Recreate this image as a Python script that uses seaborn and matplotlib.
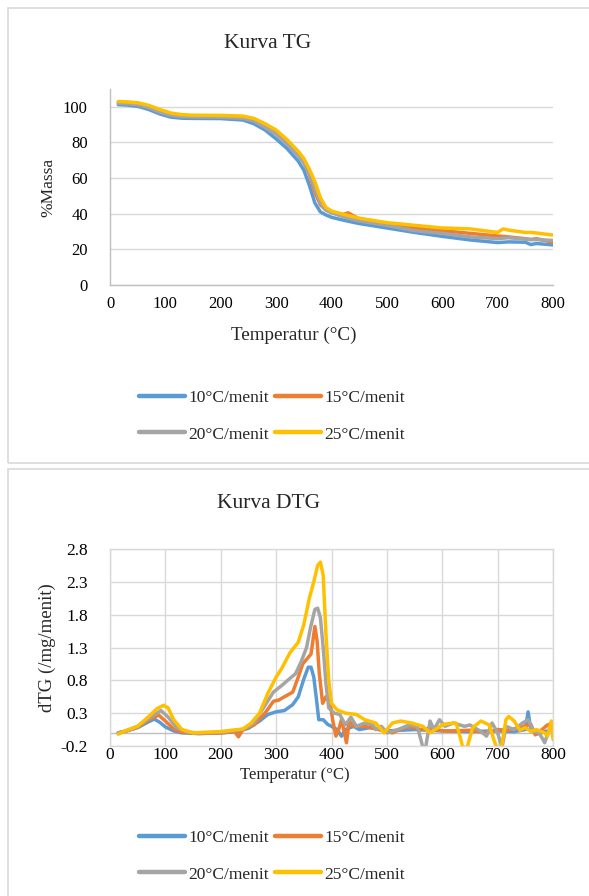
import matplotlib
matplotlib.use("Agg")
import matplotlib.pyplot as plt
from matplotlib.patches import Rectangle
import pandas as pd
import seaborn as sns

# ---------------------------
# Data
# ---------------------------
labels = ["10°C/menit", "15°C/menit", "20°C/menit", "25°C/menit"]
colors = ["#5B9BD5", "#ED7D31", "#A5A5A5", "#FFC000"]

# TG curves on a shared temperature grid
tg_temp = [15, 30, 50, 70, 90, 110, 130, 150, 200, 240, 260, 280, 300, 320, 340,
           350, 360, 370, 380, 390, 400, 420, 430, 450, 500, 550, 600, 650, 700,
           710, 720, 750, 760, 770, 800]
tg_10 = [101.2, 101, 100.3, 98.5, 96, 94.2, 93.6, 93.5, 93.4, 92.6, 90.5, 87, 82, 76.5, 69.5,
         64.5, 56, 46, 41, 39.3, 38, 36.5, 35.8, 34.5, 32, 29.5, 27.3, 25.3, 23.8,
         24, 24.2, 24, 22.7, 23.3, 22.5]
tg_15 = [102.5, 102.3, 101.8, 100, 97.5, 95.6, 95, 94.8, 94.8, 94.2, 92.6, 89.5, 85.5, 80, 73.5,
         69, 62, 52, 45, 42, 41, 39.5, 40.5, 37, 34.5, 32, 30.5, 29, 27.5,
         27.3, 27, 26, 25.5, 26, 24]
tg_20 = [102, 101.8, 101.2, 99.5, 97, 95.2, 94.5, 94.3, 94.2, 93.6, 92, 88.5, 84.5, 79, 72.5,
         68.5, 63, 54, 46, 42, 40.5, 38.5, 37.5, 36, 33.5, 30.5, 29, 27, 26,
         26.3, 26.5, 25.8, 25.5, 25.5, 25]
tg_25 = [103, 102.8, 102.3, 100.8, 98.5, 96.5, 95.6, 95.3, 95.2, 94.8, 93.5, 90.5, 87, 81.5, 75,
         71, 65, 58, 49, 43.5, 41.5, 39.8, 39, 37.5, 35, 33.5, 32, 31.5, 29.5,
         31.5, 30.8, 29.5, 29.5, 29.2, 28]

# DTG curves, each with its own temperature points
dtg_10_t = [15, 30, 50, 70, 80, 90, 100, 115, 130, 160, 200, 230, 250, 270, 285, 300, 315, 330,
            340, 350, 358, 363, 368, 373, 377, 385, 393, 400, 410, 418, 425, 440, 450, 470,
            500, 550, 600, 650, 700, 730, 750, 755, 760, 770, 790, 800]
dtg_10 = [0.0, 0.03, 0.08, 0.17, 0.21, 0.16, 0.09, 0.03, 0.0, -0.01, 0.0, 0.02, 0.07, 0.18, 0.28,
          0.32, 0.34, 0.43, 0.55, 0.82, 1.0, 1.0, 0.85, 0.5, 0.2, 0.2, 0.13, 0.1, 0.05, -0.05,
          0.05, 0.1, 0.05, 0.08, 0.03, 0.05, 0.03, 0.02, 0.03, 0.02, 0.05, 0.32, 0.05, -0.02,
          0.03, 0.05]
dtg_15_t = [15, 30, 50, 70, 88, 100, 115, 130, 160, 200, 225, 232, 240, 260, 280, 295, 305, 315,
            330, 340, 348, 358, 363, 370, 374, 378, 384, 390, 396, 402, 408, 413, 418, 422,
            427, 432, 440, 460, 480, 500, 510, 520, 540, 560, 580, 600, 620, 650, 680, 700,
            720, 740, 760, 768, 780, 790, 800]
dtg_15 = [0.0, 0.03, 0.09, 0.2, 0.27, 0.18, 0.06, 0.01, -0.01, 0.0, 0.02, -0.06, 0.05, 0.12, 0.3,
          0.48, 0.5, 0.55, 0.62, 0.85, 1.05, 1.15, 1.2, 1.62, 1.4, 0.9, 0.45, 0.55, 0.55, 0.2,
          -0.05, 0.05, 0.2, 0.05, -0.15, 0.18, 0.1, 0.1, 0.06, 0.02, 0.0, 0.04, 0.1, 0.05, 0.07,
          0.03, 0.03, 0.04, 0.0, 0.05, 0.04, 0.08, 0.13, -0.03, 0.05, 0.12, 0.15]
dtg_20_t = [15, 30, 50, 70, 92, 105, 120, 140, 160, 200, 240, 260, 280, 295, 310, 325, 335, 345,
            355, 362, 370, 375, 380, 385, 390, 395, 405, 415, 425, 435, 445, 460, 475, 480,
            490, 500, 520, 540, 555, 565, 570, 578, 585, 595, 605, 620, 640, 650, 670, 680,
            690, 700, 708, 715, 730, 745, 755, 765, 775, 785, 793, 800]
dtg_20 = [0.0, 0.03, 0.1, 0.22, 0.34, 0.24, 0.08, 0.01, 0.0, 0.01, 0.05, 0.15, 0.42, 0.62, 0.72,
          0.83, 0.9, 1.08, 1.3, 1.6, 1.88, 1.9, 1.75, 1.3, 0.75, 0.38, 0.3, 0.28, 0.12, 0.24,
          0.1, 0.15, 0.12, 0.05, 0.1, 0.0, 0.05, 0.12, 0.1, -0.22, -0.22, 0.18, 0.05, 0.2, 0.1,
          0.15, 0.1, 0.12, 0.02, -0.05, 0.15, 0.0, -0.22, 0.1, 0.05, 0.15, 0.2, 0.02, 0.0,
          -0.15, 0.05, 0.12]
dtg_25_t = [15, 30, 50, 70, 85, 97, 105, 115, 130, 150, 200, 240, 255, 270, 285, 300, 310, 325,
            340, 350, 360, 368, 375, 380, 385, 390, 395, 400, 410, 425, 445, 460, 480, 495,
            510, 525, 545, 565, 578, 600, 610, 625, 632, 637, 645, 655, 670, 685, 693, 698,
            707, 715, 720, 730, 740, 750, 760, 770, 785, 790, 797, 800]
dtg_25 = [-0.02, 0.04, 0.1, 0.25, 0.37, 0.42, 0.38, 0.2, 0.05, 0.0, 0.02, 0.06, 0.15, 0.3, 0.6,
          0.85, 0.98, 1.22, 1.38, 1.65, 2.05, 2.3, 2.55, 2.6, 2.4, 1.5, 0.8, 0.45, 0.35, 0.3,
          0.28, 0.2, 0.15, 0.0, 0.15, 0.18, 0.15, 0.1, 0.0, 0.12, 0.14, 0.15, -0.05, -0.22,
          -0.22, 0.08, 0.18, 0.12, -0.1, -0.22, -0.22, 0.2, 0.25, 0.18, 0.04, 0.08, 0.02, 0.05,
          0.0, -0.05, 0.18, -0.1]

x_ticks = [0, 100, 200, 300, 400, 500, 600, 700, 800]
tg_ticks = [0, 20, 40, 60, 80, 100]
dtg_ticks = [-0.2, 0.3, 0.8, 1.3, 1.8, 2.3, 2.8]

# ---------------------------
# Dataframes
# ---------------------------
tg_rows = []
for lab, vals in zip(labels, [tg_10, tg_15, tg_20, tg_25]):
    for t, v in zip(tg_temp, vals):
        tg_rows.append({"T": t, "v": v, "Laju": lab})
df_tg = pd.DataFrame(tg_rows)

dtg_rows = []
for lab, ts, vals in zip(labels, [dtg_10_t, dtg_15_t, dtg_20_t, dtg_25_t],
                         [dtg_10, dtg_15, dtg_20, dtg_25]):
    for t, v in zip(ts, vals):
        dtg_rows.append({"T": t, "v": v, "Laju": lab})
df_dtg = pd.DataFrame(dtg_rows)

palette = dict(zip(labels, colors))

# ---------------------------
# Plot
# ---------------------------
sns.set_style("white")
plt.rcParams["font.family"] = ["Liberation Serif", "DejaVu Serif"]

W, H = 589, 896
fig = plt.figure(figsize=(W / 100, H / 100), dpi=100)

# panel borders
fig.add_artist(Rectangle((8 / W, 1 - 463 / H), 600 / W, 455 / H, transform=fig.transFigure,
                         fill=False, edgecolor="#D9D9D9", lw=1.2))
fig.add_artist(Rectangle((8 / W, -0.02), 600 / W, 1 - 469 / H + 0.02, transform=fig.transFigure,
                         fill=False, edgecolor="#D9D9D9", lw=1.2))

grid_c = "#D9D9D9"
spine_c = "#BFBFBF"


def add_legend(ax, ycenter):
    h, l = ax.get_legend_handles_labels()
    ax.get_legend().remove()
    order = [0, 2, 1, 3]  # row-wise: 10,15 / 20,25
    leg = fig.legend([h[i] for i in order], [l[i] for i in order], loc="center",
                     bbox_to_anchor=(272 / W, 1 - ycenter / H), ncol=2, frameon=False,
                     fontsize=12.5, handlelength=2.65, handletextpad=0.2, columnspacing=0.35,
                     labelspacing=1.2)
    for line in leg.get_lines():
        line.set_linewidth(3.2)


# --- TG ---
ax1 = fig.add_axes([110 / W, 1 - 285 / H, 443 / W, 196 / H])
sns.lineplot(data=df_tg, x="T", y="v", hue="Laju", palette=palette, linewidth=2.5,
             sort=False, estimator=None, ax=ax1)
ax1.set_xlim(0, 800)
ax1.set_ylim(0, 110)
ax1.set_xticks(x_ticks)
ax1.set_yticks(tg_ticks)
ax1.yaxis.grid(True, color=grid_c, lw=1.0)
ax1.set_axisbelow(True)
for s in ["top", "right"]:
    ax1.spines[s].set_visible(False)
for s in ["left", "bottom"]:
    ax1.spines[s].set_color(spine_c)
    ax1.spines[s].set_linewidth(1.0)
ax1.tick_params(length=0, labelsize=12, colors="black")
ax1.tick_params(axis="x", pad=8)
ax1.tick_params(axis="y", pad=16)
ax1.set_xlabel("")
ax1.set_ylabel("")
add_legend(ax1, 416)

fig.text(268 / W, 1 - 43 / H, "Kurva TG", ha="center", va="center", fontsize=15.5)
fig.text(294 / W, 1 - 335 / H, "Temperatur (°C)", ha="center", va="center", fontsize=13.8)
fig.text(48 / W, 1 - 187 / H, "%Massa", ha="center", va="center", rotation=90, fontsize=12.5)

# --- DTG ---
ax2 = fig.add_axes([110 / W, 1 - 746 / H, 443 / W, 197 / H])
sns.lineplot(data=df_dtg, x="T", y="v", hue="Laju", palette=palette, linewidth=2.5,
             sort=False, estimator=None, ax=ax2)
ax2.set_xlim(0, 800)
ax2.set_ylim(-0.2, 2.8)
ax2.set_xticks(x_ticks)
ax2.set_yticks(dtg_ticks)
ax2.set_yticklabels(["-0.2", "0.3", "0.8", "1.3", "1.8", "2.3", "2.8"])
ax2.grid(True, color=grid_c, lw=1.0)
ax2.set_axisbelow(True)
ax2.axhline(0, color=spine_c, lw=1.0, zorder=1)
for s in ax2.spines.values():
    s.set_color(grid_c)
    s.set_linewidth(1.0)
ax2.tick_params(length=0, labelsize=12.5, colors="black")
ax2.tick_params(axis="x", pad=1)
ax2.tick_params(axis="y", pad=16)
ax2.set_xlabel("")
ax2.set_ylabel("")
add_legend(ax2, 856)

fig.text(269 / W, 1 - 503 / H, "Kurva DTG", ha="center", va="center", fontsize=15.5)
fig.text(295 / W, 1 - 775 / H, "Temperatur (°C)", ha="center", va="center", fontsize=12)
fig.text(47 / W, 1 - 648 / H, "dTG (/mg/menit)", ha="center", va="center", rotation=90,
         fontsize=13.5)

fig.savefig("out.png", dpi=100)
plt.close(fig)
